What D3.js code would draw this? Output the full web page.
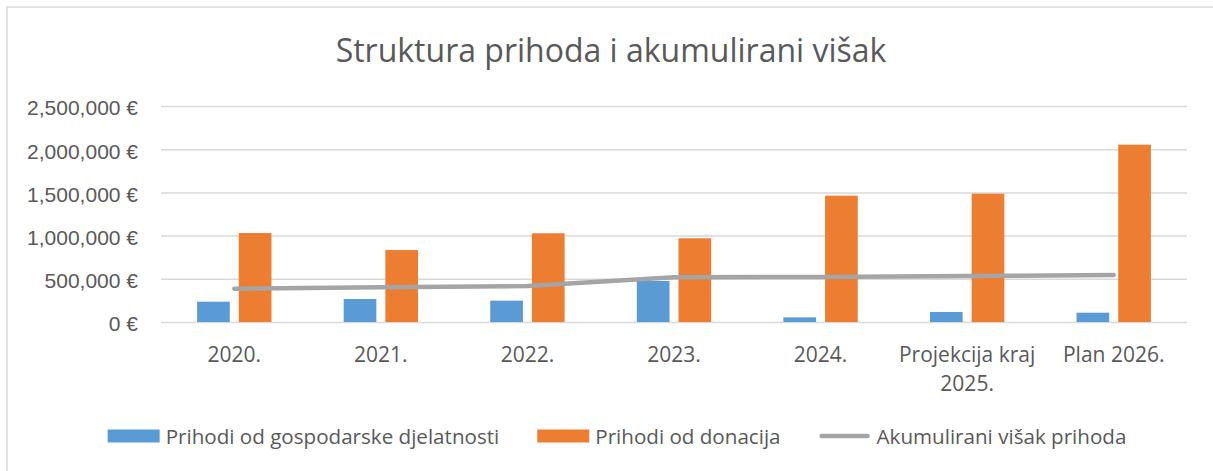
<!DOCTYPE html>
<html>
<head>
<meta charset="utf-8">
<script src="https://cdn.jsdelivr.net/npm/d3@7"></script>
<style>
    html, body { margin: 0; padding: 0; background: #fff; }
    svg { display: block; font-family: "Open Sans", sans-serif; }
    .lbl { fill: #595959; font-size: 21px; }
    .leg { fill: #595959; font-size: 20.6px; }
</style>
</head>
<body>
<svg id="chart" width="1213" height="471"></svg>
<script>
// --- Data ---
const categories = ['2020.', '2021.', '2022.', '2023.', '2024.', 'Projekcija kraj 2025.', 'Plan 2026.'];
const tickLabels = [['2020.'], ['2021.'], ['2022.'], ['2023.'], ['2024.'], ['Projekcija kraj', '2025.'], ['Plan 2026.']];
const seriesNames = ['Prihodi od gospodarske djelatnosti', 'Prihodi od donacija', 'Akumulirani višak prihoda'];
const gospodarske = [235000, 266000, 247000, 475000, 54000, 116000, 108000];
const donacije = [1030000, 833000, 1027000, 969000, 1462000, 1485000, 2052000];
const visak = [385000, 401000, 417000, 517000, 521000, 532000, 544000];
const yTicks = [0, 500000, 1000000, 1500000, 2000000, 2500000];

const COLORS = ['#5b9bd5', '#ed7d31', '#a5a5a5'];
const PLOT = { left: 161, right: 1187, top: 106, bottom: 322 };

const svg = d3.select('#chart');

// chart area border
svg.append('rect')
    .attr('x', 7).attr('y', 7)
    .attr('width', 1240).attr('height', 500)
    .attr('fill', '#fff')
    .attr('stroke', '#d9d9d9')
    .attr('stroke-width', 1.5);

// title
svg.append('text')
    .attr('x', 611).attr('y', 62)
    .attr('text-anchor', 'middle')
    .attr('fill', '#595959')
    .style('font-size', '32px')
    .text('Struktura prihoda i akumulirani višak');

// --- Scales ---
const x = d3.scaleBand()
    .domain(categories)
    .range([PLOT.left, PLOT.right])
    .padding(0);

const xInner = d3.scaleBand()
    .domain([0, 1])
    .range([0, x.bandwidth()])
    .paddingInner(0.216)
    .paddingOuter(0.866);

const y = d3.scaleLinear()
    .domain([0, 2500000])
    .range([PLOT.bottom, PLOT.top]);

const fmt = d => d3.format(',')(d) + ' €';

// --- Gridlines + y axis labels ---
const yAxis = svg.append('g')
    .attr('transform', `translate(${PLOT.left},0)`)
    .call(d3.axisLeft(y).tickValues(yTicks).tickFormat(fmt)
        .tickSize(-(PLOT.right - PLOT.left)).tickPadding(23));
yAxis.select('.domain').remove();
yAxis.selectAll('.tick line')
    .attr('stroke', '#d9d9d9')
    .attr('stroke-width', 1.5);
yAxis.selectAll('.tick text')
    .attr('class', 'lbl')
    .attr('dy', '0.42em')
    .attr('font-family', null)
    .attr('font-size', null);

// --- Bars ---
const barSeries = [gospodarske, donacije];
barSeries.forEach((vals, si) => {
    svg.append('g')
        .selectAll('rect')
        .data(vals)
        .join('rect')
        .attr('x', (d, i) => x(categories[i]) + xInner(si))
        .attr('width', xInner.bandwidth())
        .attr('y', d => y(d))
        .attr('height', d => y(0) - y(d))
        .attr('fill', COLORS[si]);
});

// --- Line ---
const line = d3.line()
    .x((d, i) => x(categories[i]) + x.bandwidth() / 2)
    .y(d => y(d));

svg.append('path')
    .datum(visak)
    .attr('d', line)
    .attr('fill', 'none')
    .attr('stroke', COLORS[2])
    .attr('stroke-width', 4.5)
    .attr('stroke-linecap', 'round')
    .attr('stroke-linejoin', 'round');

// --- X labels ---
const xl = svg.append('g');
categories.forEach((c, i) => {
    const t = xl.append('text')
        .attr('class', 'lbl')
        .attr('text-anchor', 'middle')
        .attr('x', x(c) + x.bandwidth() / 2)
        .attr('y', 362);
    tickLabels[i].forEach((ln, k) => {
        t.append('tspan')
            .attr('x', x(c) + x.bandwidth() / 2)
            .attr('dy', k === 0 ? 0 : 29)
            .text(ln);
    });
});

// --- Legend ---
const legend = svg.append('g');
const SW = 52, GAP_TXT = 6, GAP_ITEM = 38, LEG_Y = 436;
let cursor = 0;
seriesNames.forEach((name, i) => {
    const g = legend.append('g').attr('transform', `translate(${cursor},0)`);
    if (i < 2) {
        g.append('rect')
            .attr('x', 0).attr('y', LEG_Y - 6.5)
            .attr('width', SW).attr('height', 13)
            .attr('fill', COLORS[i]);
    } else {
        g.append('line')
            .attr('x1', 3).attr('x2', SW - 3)
            .attr('y1', LEG_Y).attr('y2', LEG_Y)
            .attr('stroke', COLORS[i])
            .attr('stroke-width', 4.5)
            .attr('stroke-linecap', 'round');
    }
    const txt = g.append('text')
        .attr('class', 'leg')
        .attr('x', SW + GAP_TXT)
        .attr('y', LEG_Y + 7.5)
        .text(name);
    const w = txt.node().getComputedTextLength();
    cursor += SW + GAP_TXT + w + GAP_ITEM;
});
const totalW = cursor - GAP_ITEM;
legend.attr('transform', `translate(${617 - totalW / 2},0)`);
</script>
</body>
</html>
